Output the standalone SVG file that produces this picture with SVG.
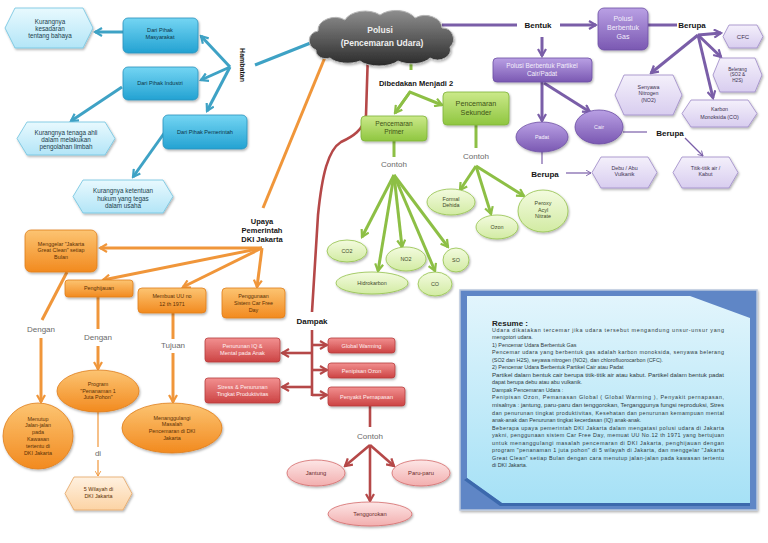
<svg xmlns="http://www.w3.org/2000/svg" width="768" height="543" viewBox="0 0 768 543">
<defs>
<linearGradient id="gBlue" x1="0" y1="0" x2="0" y2="1"><stop offset="0" stop-color="#74d5f3"/><stop offset="1" stop-color="#23a2d2"/></linearGradient>
<linearGradient id="gBlueL" x1="0" y1="0" x2="0" y2="1"><stop offset="0" stop-color="#e8f9fe"/><stop offset="1" stop-color="#b3e5f7"/></linearGradient>
<linearGradient id="gCloud" x1="0" y1="0" x2="0" y2="1"><stop offset="0" stop-color="#8e8e8e"/><stop offset="1" stop-color="#2a2a2a"/></linearGradient>
<linearGradient id="gPurp" x1="0" y1="0" x2="0" y2="1"><stop offset="0" stop-color="#b9a0e4"/><stop offset="1" stop-color="#7a58b2"/></linearGradient>
<linearGradient id="gPurpL" x1="0" y1="0" x2="0" y2="1"><stop offset="0" stop-color="#f4f0fb"/><stop offset="1" stop-color="#d8cdef"/></linearGradient>
<linearGradient id="gGreen" x1="0" y1="0" x2="0" y2="1"><stop offset="0" stop-color="#cbe98a"/><stop offset="1" stop-color="#8fc640"/></linearGradient>
<linearGradient id="gGreenL" x1="0" y1="0" x2="0" y2="1"><stop offset="0" stop-color="#f3fbdf"/><stop offset="1" stop-color="#d2eba3"/></linearGradient>
<linearGradient id="gOr" x1="0" y1="0" x2="0" y2="1"><stop offset="0" stop-color="#fcc472"/><stop offset="1" stop-color="#f28a1f"/></linearGradient>
<linearGradient id="gOrL" x1="0" y1="0" x2="0" y2="1"><stop offset="0" stop-color="#fff1e0"/><stop offset="1" stop-color="#fcd3a4"/></linearGradient>
<linearGradient id="gRed" x1="0" y1="0" x2="0" y2="1"><stop offset="0" stop-color="#f29090"/><stop offset="1" stop-color="#cc4343"/></linearGradient>
<linearGradient id="gRedL" x1="0" y1="0" x2="0" y2="1"><stop offset="0" stop-color="#fde6e6"/><stop offset="1" stop-color="#f2aeae"/></linearGradient>
<linearGradient id="gRes" x1="0" y1="0" x2="0" y2="1"><stop offset="0" stop-color="#e2f5fc"/><stop offset="1" stop-color="#a6e1f6"/></linearGradient>
<filter id="sh" x="-20%" y="-20%" width="140%" height="150%"><feDropShadow dx="1" dy="1.5" stdDeviation="1" flood-color="#000" flood-opacity="0.3"/></filter>
<marker id="mB" viewBox="0 0 10 10" refX="8" refY="5" markerWidth="10" markerHeight="10" markerUnits="userSpaceOnUse" orient="auto"><path d="M1,1 L8,5 L1,9" fill="none" stroke="#3ea2c5" stroke-width="2.2"/></marker>
<marker id="mP" viewBox="0 0 10 10" refX="8" refY="5" markerWidth="10" markerHeight="10" markerUnits="userSpaceOnUse" orient="auto"><path d="M1,1 L8,5 L1,9" fill="none" stroke="#7a5ea8" stroke-width="2.2"/></marker>
<marker id="mPt" viewBox="0 0 10 10" refX="8" refY="5" markerWidth="7" markerHeight="7" markerUnits="userSpaceOnUse" orient="auto"><path d="M1,1 L8,5 L1,9" fill="none" stroke="#7a5ea8" stroke-width="1.3"/></marker>
<marker id="mG" viewBox="0 0 10 10" refX="8" refY="5" markerWidth="10" markerHeight="10" markerUnits="userSpaceOnUse" orient="auto"><path d="M1,1 L8,5 L1,9" fill="none" stroke="#8dbf45" stroke-width="2.2"/></marker>
<marker id="mO" viewBox="0 0 10 10" refX="8" refY="5" markerWidth="10" markerHeight="10" markerUnits="userSpaceOnUse" orient="auto"><path d="M1,1 L8,5 L1,9" fill="none" stroke="#f0963a" stroke-width="2.2"/></marker>
<marker id="mOt" viewBox="0 0 10 10" refX="8" refY="5" markerWidth="7" markerHeight="7" markerUnits="userSpaceOnUse" orient="auto"><path d="M1,1 L8,5 L1,9" fill="none" stroke="#f0963a" stroke-width="1.3"/></marker>
<marker id="mR" viewBox="0 0 10 10" refX="8" refY="5" markerWidth="10" markerHeight="10" markerUnits="userSpaceOnUse" orient="auto"><path d="M1,1 L8,5 L1,9" fill="none" stroke="#b54848" stroke-width="2.2"/></marker>
</defs>
<style>
text{font-family:"Liberation Sans",Arial,sans-serif;text-anchor:middle}
.lb{font-weight:bold;font-size:8px;fill:#151515}
.gy{font-size:8px;fill:#6a6a6a}
.cB{fill:none;stroke:#3ea2c5;stroke-width:3}
.cP{fill:none;stroke:#7a5ea8;stroke-width:3}
.cPt{fill:none;stroke:#7a5ea8;stroke-width:1.2}
.cG{fill:none;stroke:#8dbf45;stroke-width:3}
.cO{fill:none;stroke:#f0963a;stroke-width:3}
.cOt{fill:none;stroke:#f0963a;stroke-width:1.2}
.cR{fill:none;stroke:#b54848;stroke-width:2.6}
.nB{fill:url(#gBlue);stroke:#2c93bd;stroke-width:0.8;filter:url(#sh)}
.hB{fill:url(#gBlueL);stroke:#6ec3e0;stroke-width:0.8;filter:url(#sh)}
.nP{fill:url(#gPurp);stroke:#6c4ea3;stroke-width:0.8;filter:url(#sh)}
.hP{fill:url(#gPurpL);stroke:#9c88c6;stroke-width:0.8;filter:url(#sh)}
.nG{fill:url(#gGreen);stroke:#7fb338;stroke-width:0.8;filter:url(#sh)}
.eG{fill:url(#gGreenL);stroke:#93c24a;stroke-width:0.8;filter:url(#sh)}
.nO{fill:url(#gOr);stroke:#e07e1b;stroke-width:0.8;filter:url(#sh)}
.hO{fill:url(#gOrL);stroke:#e4a462;stroke-width:0.8;filter:url(#sh)}
.nR{fill:url(#gRed);stroke:#b63c3c;stroke-width:0.8;filter:url(#sh)}
.eR{fill:url(#gRedL);stroke:#d46a6a;stroke-width:0.8;filter:url(#sh)}
.tB{font-size:5.6px;fill:#0d3546}
.tBh{font-size:6.3px;fill:#21404c}
.tP{font-size:7px;fill:#f3eefb}
.tPs{font-size:5.4px;fill:#f6f2fc}
.tPh{font-size:5.3px;fill:#3b3150}
.tG{font-size:7.2px;fill:#3e5216}
.tGe{font-size:5.4px;fill:#3f4a2a}
.tO{font-size:5.4px;fill:#5b3005}
.tR{font-size:5.6px;fill:#fff0f0}
.tRe{font-size:5.8px;fill:#6a2a2a}
.rs{font-size:5.4px;fill:#2f3a40;text-anchor:start}
</style>
<rect width="768" height="543" fill="#ffffff"/>

<g id="connectors">
<!-- blue -->
<line class="cB" x1="255" y1="65" x2="313" y2="42"/>
<line class="cB" x1="230" y1="67" x2="201" y2="36" marker-end="url(#mB)"/>
<line class="cB" x1="230" y1="67" x2="201" y2="80" marker-end="url(#mB)"/>
<line class="cB" x1="230" y1="67" x2="207" y2="111" marker-end="url(#mB)"/>
<line class="cB" x1="123" y1="32" x2="95" y2="32" marker-end="url(#mB)"/>
<line class="cB" x1="122" y1="87" x2="71" y2="121" marker-end="url(#mB)"/>
<line class="cB" x1="165" y1="132" x2="133" y2="177" marker-end="url(#mB)"/>
<!-- purple -->
<line class="cP" x1="442" y1="25" x2="517" y2="25"/>
<line class="cP" x1="560" y1="25" x2="596" y2="25" marker-end="url(#mP)"/>
<line class="cP" x1="648" y1="25" x2="677" y2="25"/>
<line class="cP" x1="698" y1="35" x2="721" y2="33" marker-end="url(#mP)"/>
<line class="cP" x1="698" y1="35" x2="721" y2="57" marker-end="url(#mP)"/>
<line class="cP" x1="698" y1="35" x2="713" y2="98" marker-end="url(#mP)"/>
<line class="cP" x1="698" y1="35" x2="651" y2="73" marker-end="url(#mP)"/>
<line class="cP" x1="542" y1="37" x2="542" y2="56" marker-end="url(#mP)"/>
<line class="cP" x1="542" y1="82" x2="542" y2="121" marker-end="url(#mP)"/>
<line class="cP" x1="544" y1="83" x2="590" y2="112" marker-end="url(#mP)"/>
<line class="cPt" x1="623" y1="132" x2="647" y2="132"/>
<line class="cPt" x1="685" y1="138" x2="703" y2="156" marker-end="url(#mPt)"/>
<line class="cPt" x1="542" y1="152" x2="542" y2="164"/>
<line class="cPt" x1="566" y1="173" x2="591" y2="173" marker-end="url(#mPt)"/>
<!-- green -->
<line class="cG" x1="411" y1="50" x2="411" y2="70"/>
<polyline class="cG" points="395,113 410,92 442,105" marker-end="url(#mG)"/>
<line class="cG" x1="410" y1="92" x2="395" y2="113" marker-end="url(#mG)"/>
<line class="cG" x1="394" y1="141" x2="394" y2="157"/>
<line class="cG" x1="476" y1="125" x2="476" y2="148"/>
<line class="cG" x1="394" y1="175" x2="362" y2="237" marker-end="url(#mG)"/>
<line class="cG" x1="394" y1="175" x2="378" y2="271" marker-end="url(#mG)"/>
<line class="cG" x1="394" y1="175" x2="402" y2="247" marker-end="url(#mG)"/>
<line class="cG" x1="394" y1="175" x2="435" y2="271" marker-end="url(#mG)"/>
<line class="cG" x1="394" y1="175" x2="448" y2="247" marker-end="url(#mG)"/>
<line class="cG" x1="476" y1="166" x2="460" y2="190" marker-end="url(#mG)"/>
<line class="cG" x1="476" y1="166" x2="491" y2="214" marker-end="url(#mG)"/>
<line class="cG" x1="476" y1="166" x2="524" y2="196" marker-end="url(#mG)"/>
<!-- orange -->
<line class="cO" x1="328" y1="50" x2="263" y2="208"/>
<line class="cO" x1="262" y1="248" x2="100" y2="248" marker-end="url(#mO)"/>
<line class="cO" x1="262" y1="248" x2="103" y2="280" marker-end="url(#mO)"/>
<line class="cO" x1="262" y1="248" x2="183" y2="287" marker-end="url(#mO)"/>
<line class="cO" x1="262" y1="248" x2="257" y2="287" marker-end="url(#mO)"/>
<line class="cO" x1="67" y1="272" x2="42" y2="320"/>
<line class="cO" x1="41" y1="338" x2="41" y2="402" marker-end="url(#mO)"/>
<line class="cO" x1="98" y1="297" x2="98" y2="329"/>
<line class="cO" x1="98" y1="346" x2="98" y2="369" marker-end="url(#mO)"/>
<line class="cOt" x1="98" y1="412" x2="98" y2="447"/>
<line class="cOt" x1="98" y1="460" x2="98" y2="476" marker-end="url(#mOt)"/>
<line class="cO" x1="173" y1="313" x2="173" y2="339"/>
<line class="cO" x1="173" y1="353" x2="173" y2="402" marker-end="url(#mO)"/>
<!-- red -->
<path class="cR" d="M368,52 L366,115 C364,130 352,137 341,142 C328,150 322,175 318,215 L312,312"/>
<line class="cR" x1="312" y1="330" x2="312" y2="396"/>
<line class="cR" x1="312" y1="345" x2="327" y2="345" marker-end="url(#mR)"/>
<line class="cR" x1="312" y1="370" x2="327" y2="370" marker-end="url(#mR)"/>
<line class="cR" x1="312" y1="395" x2="327" y2="395" marker-end="url(#mR)"/>
<line class="cR" x1="312" y1="353" x2="282" y2="353" marker-end="url(#mR)"/>
<line class="cR" x1="312" y1="387" x2="282" y2="387" marker-end="url(#mR)"/>
<line class="cR" x1="370" y1="406" x2="370" y2="427"/>
<line class="cR" x1="370" y1="445" x2="345" y2="466" marker-end="url(#mR)"/>
<line class="cR" x1="370" y1="445" x2="370" y2="501" marker-end="url(#mR)"/>
<line class="cR" x1="370" y1="445" x2="394" y2="466" marker-end="url(#mR)"/>
</g>

<!-- center cloud -->
<g id="polusi">
<path d="M316,50 A11,10 0 0 1 318,31 A17,13 0 0 1 345,20 A21,13 0 0 1 380,15 A21,13 0 0 1 415,18 A17,13 0 0 1 442,28 A11,11 0 0 1 450,47 A13,10 0 0 1 430,58 A20,10 0 0 1 398,61 A22,10 0 0 1 360,61 A20,10 0 0 1 330,58 A10,8 0 0 1 316,50 Z" fill="url(#gCloud)" stroke="#b5b5b5" stroke-width="1" filter="url(#sh)"/>
<text x="380" y="33" style="font-size:8.5px;font-weight:bold;fill:#eeeeee">Polusi</text>
<text x="382" y="46" style="font-size:8.5px;font-weight:bold;fill:#eeeeee">(Pencemaran Udara)</text>
</g>

<!-- labels -->
<g id="labels">
<text class="lb" transform="translate(240,65) rotate(90)" style="font-size:7px">Hambatan</text>
<text class="lb" x="538" y="28">Bentuk</text>
<text class="lb" x="692" y="28">Berupa</text>
<text class="lb" x="670" y="136">Berupa</text>
<text class="lb" x="545" y="177">Berupa</text>
<text class="lb" x="416" y="86" style="font-size:7.5px">Dibedakan Menjadi 2</text>
<text class="gy" x="394" y="167">Contoh</text>
<text class="gy" x="476" y="159">Contoh</text>
<text class="lb" x="262" y="224" style="font-size:7.5px">Upaya</text>
<text class="lb" x="262" y="233" style="font-size:7.5px">Pemerintah</text>
<text class="lb" x="262" y="242" style="font-size:7.5px">DKI Jakarta</text>
<text class="gy" x="41" y="332">Dengan</text>
<text class="gy" x="98" y="340">Dengan</text>
<text class="gy" x="173" y="348">Tujuan</text>
<text class="gy" x="98" y="456">di</text>
<text class="lb" x="312" y="324">Dampak</text>
<text class="gy" x="370" y="439">Contoh</text>
</g>

<!-- blue nodes -->
<g id="kesadaran"><polygon class="hB" points="15,8 83,8 93,28 83,48 15,48 5,28"/>
<text class="tBh" x="50" y="24.3">Kurangnya</text><text class="tBh" x="50" y="31.3">kesadaran</text><text class="tBh" x="50" y="38.3">tentang bahaya</text></g>
<g id="masyarakat"><rect class="nB" x="123" y="18" width="75" height="35" rx="5"/>
<text class="tB" x="160" y="32">Dari Pihak</text><text class="tB" x="160" y="39">Masyarakat</text></g>
<g id="industri"><rect class="nB" x="123" y="67" width="75" height="33" rx="5"/>
<text class="tB" x="160" y="85">Dari Pihak Industri</text></g>
<g id="pemerintah"><rect class="nB" x="163" y="115" width="84" height="34" rx="5"/>
<text class="tB" x="205" y="134">Dari Pihak Pemerintah</text></g>
<g id="tenagaahli"><polygon class="hB" points="27,122 105,122 115,138.5 105,155 27,155 17,138.5"/>
<text class="tBh" x="66" y="135.2">Kurangnya tenaga ahli</text><text class="tBh" x="66" y="142.2">dalam melakukan</text><text class="tBh" x="66" y="149.2">pengolahan limbah</text></g>
<g id="ketentuan"><polygon class="hB" points="83,180 163,180 173,196.5 163,213 83,213 73,196.5"/>
<text class="tBh" x="123" y="193.2">Kurangnya ketentuan</text><text class="tBh" x="123" y="200.5">hukum yang tegas</text><text class="tBh" x="123" y="207.8">dalam usaha</text></g>

<!-- purple nodes -->
<g id="gas"><rect class="nP" x="598" y="8" width="50" height="42" rx="6"/>
<text class="tP" x="623" y="20.5">Polusi</text><text class="tP" x="623" y="29.5">Berbentuk</text><text class="tP" x="623" y="38.5">Gas</text></g>
<g id="partikel"><rect class="nP" x="493" y="58" width="99" height="24" rx="4"/>
<text class="tP" x="542" y="68.2" style="font-size:6.4px">Polusi Berbentuk Partikel</text><text class="tP" x="542" y="76" style="font-size:6.4px">Cair/Padat</text></g>
<g id="padat"><ellipse class="nP" cx="542" cy="137" rx="26" ry="15"/><text class="tPs" x="542" y="139">Padat</text></g>
<g id="cair"><ellipse class="nP" cx="599" cy="127" rx="24" ry="17"/><text class="tPs" x="599" y="129">Cair</text></g>
<g id="cfc"><polygon class="hP" points="729,25 757,25 763,36.5 757,48 729,48 723,36.5"/><text class="tPh" x="743" y="38.5" style="font-size:6px">CFC</text></g>
<g id="belerang"><polygon class="hP" points="720,58 755,58 762,75 755,92 720,92 713,75"/>
<text class="tPh" x="737.5" y="70.6" style="font-size:4.6px">Belerang</text><text class="tPh" x="737.5" y="76.3" style="font-size:4.6px">(SO2 &amp;</text><text class="tPh" x="737.5" y="82" style="font-size:4.6px">H2S)</text></g>
<g id="senyawa"><polygon class="hP" points="624,75 673,75 682,95 673,115 624,115 615,95"/>
<text class="tPh" x="648.5" y="88.8">Senyawa</text><text class="tPh" x="648.5" y="95.3">Nitrogen</text><text class="tPh" x="648.5" y="101.8">(NO2)</text></g>
<g id="karbon"><polygon class="hP" points="691,100 748,100 757,113.5 748,127 691,127 682,113.5"/>
<text class="tPh" x="719.5" y="111">Karbon</text><text class="tPh" x="719.5" y="118.5">Monoksida (CO)</text></g>
<g id="debu"><polygon class="hP" points="601,157 648,157 657,172.5 648,188 601,188 592,172.5"/>
<text class="tPh" x="624.5" y="169.5">Debu / Abu</text><text class="tPh" x="624.5" y="176">Vulkanik</text></g>
<g id="titik"><polygon class="hP" points="682,157 729,157 738,172.5 729,188 682,188 673,172.5"/>
<text class="tPh" x="705.5" y="169.5">Titik-titik air /</text><text class="tPh" x="705.5" y="176">Kabut</text></g>

<!-- green nodes -->
<g id="sekunder"><rect class="nG" x="443" y="92" width="66" height="33" rx="4"/>
<text class="tG" x="476" y="105.5">Pencemaran</text><text class="tG" x="476" y="114.5">Sekunder</text></g>
<g id="primer"><rect class="nG" x="361" y="116" width="66" height="25" rx="4"/>
<text class="tG" x="394" y="125.5" style="font-size:6.6px">Pencemaran</text><text class="tG" x="394" y="134" style="font-size:6.6px">Primer</text></g>
<g id="co2"><ellipse class="eG" cx="347" cy="251" rx="20" ry="11"/><text class="tGe" x="347" y="253">CO2</text></g>
<g id="hidrokarbon"><ellipse class="eG" cx="372" cy="283" rx="36" ry="11"/><text class="tGe" x="372" y="285">Hidrokarbon</text></g>
<g id="no2"><ellipse class="eG" cx="406" cy="259" rx="20" ry="12"/><text class="tGe" x="406" y="261">NO2</text></g>
<g id="co"><ellipse class="eG" cx="435" cy="284" rx="17" ry="12"/><text class="tGe" x="435" y="286">CO</text></g>
<g id="so"><ellipse class="eG" cx="456" cy="260" rx="13" ry="12"/><text class="tGe" x="456" y="262">SO</text></g>
<g id="formal"><ellipse class="eG" cx="451" cy="202" rx="24" ry="13"/><text class="tGe" x="451" y="200.5">Formal</text><text class="tGe" x="451" y="207">Dehida</text></g>
<g id="ozon"><ellipse class="eG" cx="497" cy="227" rx="21" ry="12"/><text class="tGe" x="497" y="229">Ozon</text></g>
<g id="peroxy"><ellipse class="eG" cx="543" cy="211" rx="25" ry="21"/><text class="tGe" x="543" y="205">Peroxy</text><text class="tGe" x="543" y="211.5">Acyl</text><text class="tGe" x="543" y="218">Nitrate</text></g>

<!-- orange nodes -->
<g id="menggelar"><rect class="nO" x="25" y="230" width="72" height="42" rx="6"/>
<text class="tO" x="61" y="245.8">Menggelar "Jakarta</text><text class="tO" x="61" y="252.3">Great Clean" setiap</text><text class="tO" x="61" y="258.8">Bulan</text></g>
<g id="penghijauan"><rect class="nO" x="65" y="280" width="68" height="17" rx="3"/><text class="tO" x="99" y="290">Penghijauan</text></g>
<g id="membuatuu"><rect class="nO" x="138" y="288" width="68" height="25" rx="4"/>
<text class="tO" x="172" y="298">Membuat UU no</text><text class="tO" x="172" y="305.5">12 th 1971</text></g>
<g id="carfreeday"><rect class="nO" x="222" y="288" width="63" height="30" rx="4"/>
<text class="tO" x="253.5" y="297.8">Penggunaan</text><text class="tO" x="253.5" y="304.8">Sistem Car Free</text><text class="tO" x="253.5" y="311.8">Day</text></g>
<g id="menutup"><ellipse class="nO" cx="38" cy="436" rx="35" ry="33"/>
<text class="tO" x="38" y="420.5">Menutup</text><text class="tO" x="38" y="427.3">Jalan-jalan</text><text class="tO" x="38" y="434.1">pada</text><text class="tO" x="38" y="440.9">Kawasan</text><text class="tO" x="38" y="447.7">tertentu di</text><text class="tO" x="38" y="454.5">DKI Jakarta</text></g>
<g id="program"><ellipse class="nO" cx="98" cy="391" rx="41" ry="21"/>
<text class="tO" x="98" y="386">Program</text><text class="tO" x="98" y="392.7">"Penanaman 1</text><text class="tO" x="98" y="399.4">Juta Pohon"</text></g>
<g id="wilayah"><polygon class="hO" points="74,477 123,477 132,493.5 123,510 74,510 65,493.5"/>
<text class="tO" x="98.5" y="491">5 Wilayah di</text><text class="tO" x="98.5" y="498">DKI Jakarta</text></g>
<g id="menanggulangi"><ellipse class="nO" cx="172" cy="428" rx="50" ry="25"/>
<text class="tO" x="172" y="419.5">Menanggulangi</text><text class="tO" x="172" y="426.2">Masalah</text><text class="tO" x="172" y="432.9">Pencemaran di DKI</text><text class="tO" x="172" y="439.6">Jakarta</text></g>

<!-- red nodes -->
<g id="globalwarming"><rect class="nR" x="328" y="338" width="67" height="15" rx="3"/><text class="tR" x="361.5" y="347.5">Global Warming</text></g>
<g id="penipisanozon"><rect class="nR" x="328" y="363" width="67" height="15" rx="3"/><text class="tR" x="361.5" y="372.5">Penipisan Ozon</text></g>
<g id="pernapasan"><rect class="nR" x="328" y="387" width="77" height="19" rx="3"/><text class="tR" x="366.5" y="398.5">Penyakit Pernapasan</text></g>
<g id="iq"><rect class="nR" x="205" y="338" width="75" height="24" rx="3"/>
<text class="tR" x="242.5" y="347.8">Penurunan IQ &amp;</text><text class="tR" x="242.5" y="355">Mental pada Anak</text></g>
<g id="stress"><rect class="nR" x="205" y="378" width="75" height="25" rx="3"/>
<text class="tR" x="242.5" y="388.8">Stress &amp; Penurunan</text><text class="tR" x="242.5" y="396">Tingkat Produktivitas</text></g>
<g id="jantung"><ellipse class="eR" cx="316" cy="473" rx="29" ry="13"/><text class="tRe" x="316" y="475">Jantung</text></g>
<g id="parumparu"><ellipse class="eR" cx="421" cy="473" rx="29" ry="13"/><text class="tRe" x="421" y="475">Paru-paru</text></g>
<g id="tenggorokan"><ellipse class="eR" cx="370" cy="514" rx="42" ry="12"/><text class="tRe" x="370" y="516">Tenggorokan</text></g>

<!-- resume box -->
<g id="resume">
<rect x="460" y="290" width="297" height="220" fill="#5f86c6" stroke="#b9c7de" stroke-width="1.5" filter="url(#sh)"/>
<polygon points="467,296 690,296 750,318 750,503 502,503 467,478" fill="url(#gRes)"/>
<polygon points="467,478 502,503 750,503 750,506 500,506 464,480" fill="#3c69ad"/>
<text x="492" y="326" style="font-size:8px;font-weight:bold;fill:#222;text-anchor:start">Resume :</text>
<text class="rs" x="492" y="331.5" textLength="232" lengthAdjust="spacing">Udara dikatakan tercemar jika udara tersebut mengandung unsur-unsur yang</text>
<text class="rs" x="492" y="339">mengotori udara.</text>
<text class="rs" x="492" y="346.6">1) Pencemar Udara Berbentuk Gas</text>
<text class="rs" x="492" y="354.1" textLength="232" lengthAdjust="spacing">Pencemar udara yang berbentuk gas adalah karbon monoksida, senyawa belerang</text>
<text class="rs" x="492" y="361.7">(SO2 dan H2S), seyawa nitrogen (NO2), dan chlorofluorocarbon (CFC).</text>
<text class="rs" x="492" y="369.2">2) Pencemar Udara Berbentuk Partikel Cair atau Padat</text>
<text class="rs" x="492" y="376.8" textLength="232" lengthAdjust="spacingAndGlyphs">Partikel dalam bentuk cair berupa titik-titik air atau kabut. Partikel dalam bentuk padat</text>
<text class="rs" x="492" y="384.3">dapat berupa debu atau abu vulkanik.</text>
<text class="rs" x="492" y="391.9">Dampak Pencemaran Udara :</text>
<text class="rs" x="492" y="399.4" textLength="232" lengthAdjust="spacing">Penipisan Ozon, Pemanasan Global ( Global Warming ), Penyakit pernapasan,</text>
<text class="rs" x="492" y="407" textLength="232" lengthAdjust="spacingAndGlyphs">misalnya : jantung, paru-paru dan tenggorokan, Terganggunya fungsi reproduksi, Stres</text>
<text class="rs" x="492" y="414.5" textLength="232" lengthAdjust="spacing">dan penurunan tingkat produktivitas, Kesehatan dan penurunan kemampuan mental</text>
<text class="rs" x="492" y="422.1">anak-anak  dan Penurunan tingkat kecerdasan (IQ) anak-anak.</text>
<text class="rs" x="492" y="429.6" textLength="232" lengthAdjust="spacing">Beberapa upaya pemerintah DKI Jakarta dalam mengatasi polusi udara di Jakarta</text>
<text class="rs" x="492" y="437.2" textLength="232" lengthAdjust="spacing">yakni, penggunaan sistem Car Free Day, memuat UU No.12 th 1971 yang bertujuan</text>
<text class="rs" x="492" y="444.7" textLength="232" lengthAdjust="spacing">untuk menanggulangi masalah pencemaran di DKI Jakarta, penghijauan dengan</text>
<text class="rs" x="492" y="452.3" textLength="232" lengthAdjust="spacing">program "penanaman 1 juta pohon" di 5 wilayah di Jakarta, dan menggelar "Jakarta</text>
<text class="rs" x="492" y="459.8" textLength="232" lengthAdjust="spacing">Great Clean" setiap Bulan dengan cara menutup jalan-jalan pada kawasan tertentu</text>
<text class="rs" x="492" y="467.4">di DKI Jakarta.</text>
</g>
</svg>
